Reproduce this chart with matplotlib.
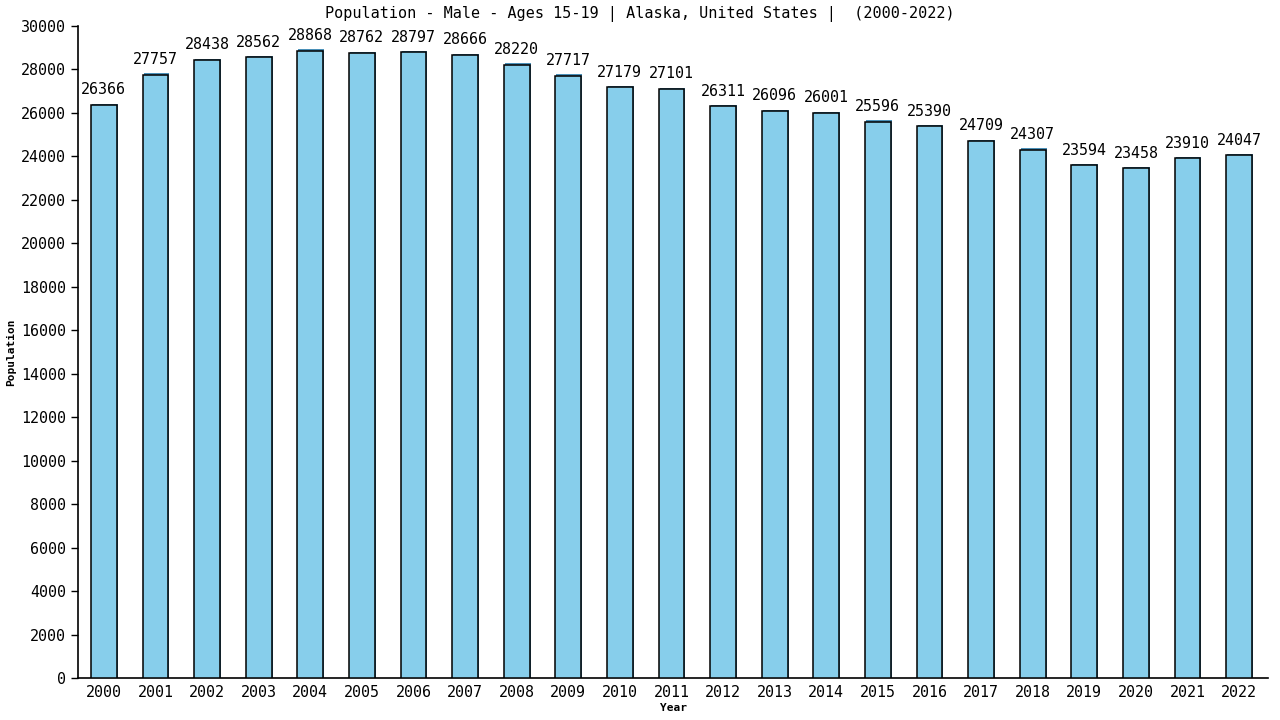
import matplotlib
matplotlib.use('Agg')
import matplotlib.pyplot as plt
from matplotlib.ticker import MultipleLocator

# 数据
years = ['2000', '2001', '2002', '2003', '2004', '2005', '2006', '2007', '2008', '2009', '2010', '2011',
         '2012', '2013', '2014', '2015', '2016', '2017', '2018', '2019', '2020', '2021', '2022']
population = [26366, 27757, 28438, 28562, 28868, 28762, 28797, 28666, 28220, 27717, 27179, 27101,
              26311, 26096, 26001, 25596, 25390, 24709, 24307, 23594, 23458, 23910, 24047]

plt.rcParams['font.family'] = ['DejaVu Sans Mono']

fig = plt.figure(figsize=(12.8, 7.2), dpi=100)
ax = fig.add_axes([78 / 1280, 42 / 720, 1190 / 1280, 652 / 720])

x = list(range(len(years)))
# 阴影 + 主柱
ax.bar([i + 0.02 for i in x], [v + 60 for v in population], width=0.5, color='#4a90b8', zorder=2)
ax.bar(x, population, width=0.5, color='#87ceeb', edgecolor='black', linewidth=1.1, zorder=3)

for i, v in zip(x, population):
    ax.text(i, v + 350, str(v), ha='center', va='bottom', fontsize=10.8, color='black')

ax.set_xlim(-0.5, 22.56)
ax.set_ylim(0, 30000)
ax.yaxis.set_major_locator(MultipleLocator(2000))
ax.set_xticks(x)
ax.set_xticklabels(years, fontsize=10.8)
ax.tick_params(axis='y', labelsize=10.8, length=5, width=1, direction='out')
ax.tick_params(axis='x', length=0, pad=5)

ax.spines['top'].set_visible(False)
ax.spines['right'].set_visible(False)
ax.spines['left'].set_linewidth(1.2)
ax.spines['bottom'].set_linewidth(1.2)

ax.set_ylabel('Population', fontsize=8, fontweight='bold', labelpad=4)
ax.set_xlabel('Year', fontsize=8, fontweight='bold', labelpad=2)
fig.suptitle('Population - Male - Ages 15-19 | Alaska, United States |  (2000-2022)',
             fontsize=10.9, y=0.992)

plt.savefig('out.png', dpi=100)
plt.close(fig)
